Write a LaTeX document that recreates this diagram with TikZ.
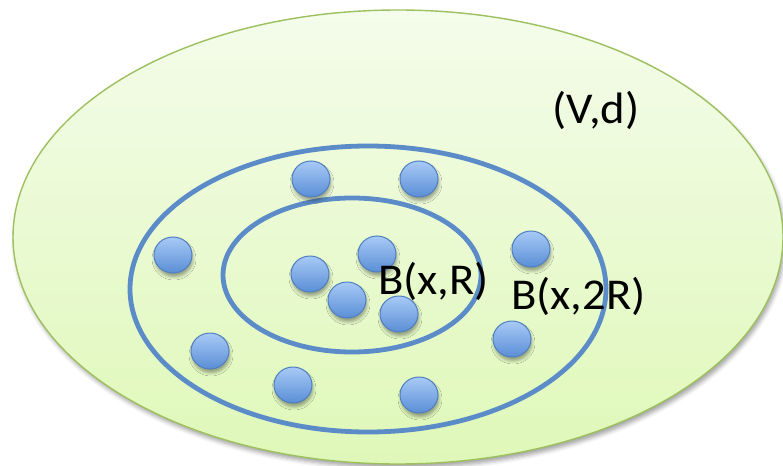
\documentclass[tikz,border=0pt]{standalone}
\usepackage{fontspec}
\setmainfont{Carlito}
\usetikzlibrary{shapes.geometric,shadows.blur}
\definecolor{bgtop}{HTML}{F4FCEB}
\definecolor{bgbot}{HTML}{DFF8B8}
\definecolor{bgline}{HTML}{9DC05E}
\definecolor{ring}{HTML}{5B8CC8}
\definecolor{dottop}{HTML}{A8CAF6}
\definecolor{dotbot}{HTML}{5A8ED6}
\definecolor{dotline}{HTML}{4F7FC0}
\tikzset{
  space/.style={draw=bgline, line width=1.4pt, top color=bgtop, bottom color=bgbot,
    blur shadow={shadow xshift=2pt, shadow yshift=-4pt, shadow blur radius=4pt, shadow opacity=35}},
  ringline/.style={draw=ring, line width=4.8pt},
  dot/.style={ellipse, draw=dotline, line width=1pt, minimum width=38pt, minimum height=36pt,
    inner sep=0pt, top color=dottop, bottom color=dotbot,
    blur shadow={shadow xshift=1pt, shadow yshift=-4pt, shadow blur radius=3pt, shadow opacity=35}},
  lbl/.style={anchor=base west, inner sep=0pt, font=\fontsize{44}{50}\selectfont}
}
\begin{document}
\begin{tikzpicture}[x=1pt,y=-1pt]
\useasboundingbox (0,0) rectangle (783,465);
\path[space] (398,237) ellipse [x radius=385, y radius=227];
\draw[ringline] (368,289) ellipse [x radius=238, y radius=143];
\draw[ringline] (352,275) ellipse [x radius=129, y radius=77];
\node[dot] (d1) at (311,179) {};
\node[dot] (d2) at (419,179) {};
\node[dot] (d3) at (173,255) {};
\node[dot] (d4) at (310,274) {};
\node[dot] (d5) at (377,254) {};
\node[dot] (d6) at (347,300) {};
\node[dot] (d7) at (399,314) {};
\node[dot] (d8) at (531,249) {};
\node[dot] (d9) at (512,339) {};
\node[dot] (d10) at (210,351) {};
\node[dot] (d11) at (293,385) {};
\node[dot] (d12) at (419,395) {};
\node[lbl] (vd) at (552,124) {\scalebox{1.06}[1]{(V,d)}};
\node[lbl] (b1) at (378,294) {\scalebox{1.06}[1]{B(x,R)}};
\node[lbl] (b2) at (511,309) {\scalebox{1.06}[1]{B(x,2R)}};
\end{tikzpicture}
\end{document}
